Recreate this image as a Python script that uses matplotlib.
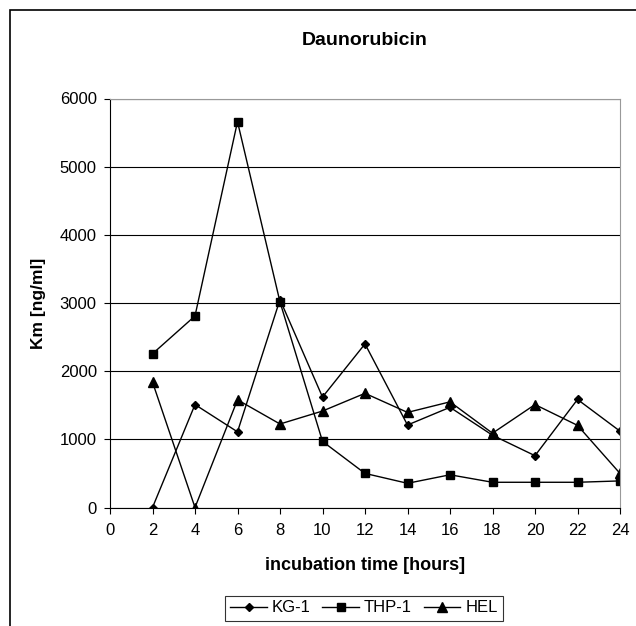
import numpy as np
from matplotlib import pyplot as plt
from matplotlib.patches import Rectangle

plt.rcParams['font.family'] = ['Liberation Sans', 'DejaVu Sans']

hours = [2, 4, 6, 8, 10, 12, 14, 16, 18, 20, 22, 24]
kg1 = [0, 1510, 1110, 3050, 1620, 2400, 1210, 1470, 1060, 760, 1585, 1120]
thp1 = [2255, 2810, 5660, 3015, 970, 500, 355, 480, 370, 370, 370, 390]
hel = [1840, 0, 1580, 1225, 1415, 1675, 1395, 1550, 1090, 1510, 1205, 500]

W, H = 636, 626
fig = plt.figure(figsize=(W / 100, H / 100), dpi=100)
left, right, top, bottom = 110, 620, 98.5, 507.5
ax = fig.add_axes([left / W, 1 - bottom / H, (right - left) / W, (bottom - top) / H])

# outer frame of the chart
fig.patches.append(Rectangle((10 / W, -0.01), 1.0, 1 - 10 / H + 0.01, transform=fig.transFigure,
                             fill=False, edgecolor='black', linewidth=1.2))

ax.plot(hours, kg1, color='black', lw=1, marker='D', ms=4, label='KG-1')
ax.plot(hours, thp1, color='black', lw=1, marker='s', ms=6, label='THP-1')
ax.plot(hours, hel, color='black', lw=1, marker='^', ms=6.5, label='HEL')

ax.set_xlim(0, 24)
ax.set_ylim(0, 6000)
ax.set_xticks(np.arange(0, 25, 2))
ax.set_yticks(np.arange(0, 6001, 1000))
ax.yaxis.grid(True, color='black', lw=0.8)
ax.set_axisbelow(True)
for s in ['top', 'right']:
    ax.spines[s].set_color('#999999')
ax.spines['left'].set_color('black')
ax.spines['bottom'].set_color('black')
ax.tick_params(axis='both', direction='out', length=4.5, labelsize=12, color='black')
ax.tick_params(axis='y', pad=5)
ax.tick_params(axis='x', pad=7)

fig.text((left + right) / 2 / W, 1 - 40.7 / H, 'Daunorubicin', fontsize=14, fontweight='bold',
         ha='center', va='center')
ax.set_xlabel('incubation time [hours]', fontsize=13, fontweight='bold', va='center')
ax.xaxis.set_label_coords(0.5, (bottom - 565) / (bottom - top))
ax.set_ylabel('Km [ng/ml]', fontsize=12.5, fontweight='bold', va='center')
ax.yaxis.set_label_coords((38 - left) / (right - left), 0.5)

leg = fig.legend(loc='center', bbox_to_anchor=(364 / W, 1 - 608 / H), ncol=3, fontsize=12,
                 frameon=True, fancybox=False, edgecolor='black', handlelength=2.2,
                 handletextpad=0.3, columnspacing=0.7, borderpad=0.3, borderaxespad=0)
leg.get_frame().set_linewidth(0.8)

fig.savefig('out.png', dpi=100)
